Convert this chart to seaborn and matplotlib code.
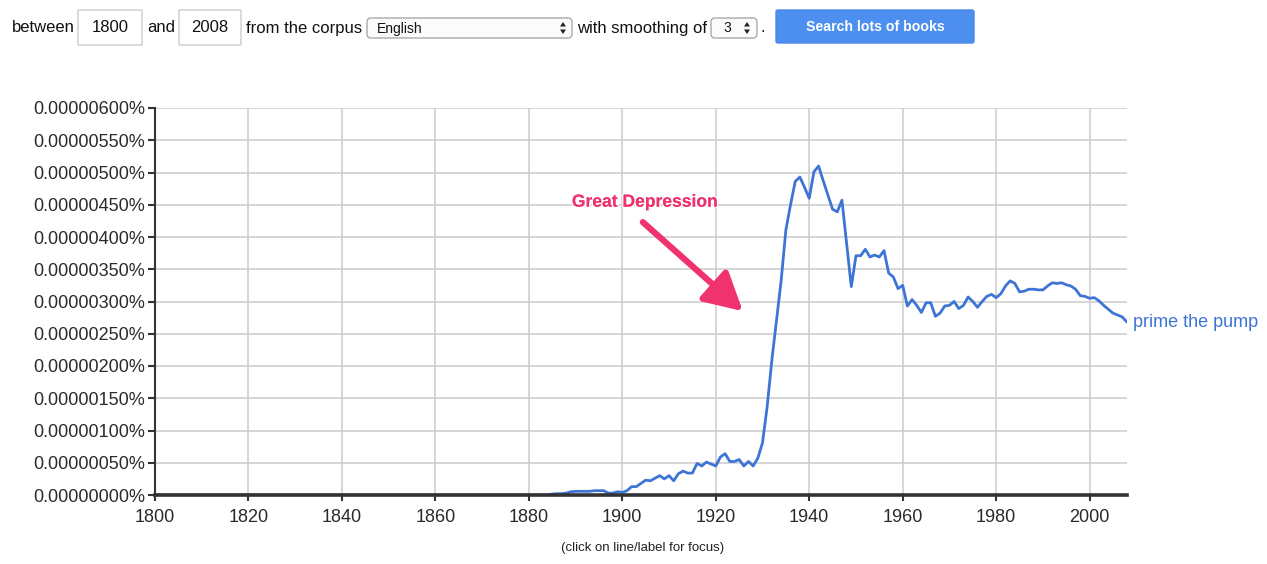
import numpy as np
import pandas as pd
import matplotlib
matplotlib.use("Agg")
import matplotlib.pyplot as plt
import matplotlib.patheffects as pe
from matplotlib.patches import FancyBboxPatch, Polygon
from matplotlib.transforms import Affine2D
import seaborn as sns

# ---- data (frequency in millionths of a percent) ----
PHRASE = "prime the pump"
zero_years = list(range(1800, 1885))
zero_vals = [0.0] * len(zero_years)
vals_1885 = [
    0.015, 0.02, 0.02, 0.03, 0.05,                                   # 1885-1889
    0.057, 0.057, 0.057, 0.057, 0.067, 0.067, 0.067, 0.03, 0.03, 0.05,  # 1890s
    0.04, 0.067, 0.13, 0.13, 0.18, 0.23, 0.22, 0.26, 0.30, 0.25,     # 1900s
    0.30, 0.22, 0.33, 0.37, 0.34, 0.34, 0.49, 0.45, 0.51, 0.48,      # 1910s
    0.45, 0.59, 0.64, 0.52, 0.52, 0.55, 0.45, 0.52, 0.45, 0.57,      # 1920s
    0.81, 1.37, 2.09, 2.71, 3.33, 4.11, 4.50, 4.86, 4.93, 4.77,      # 1930s
    4.60, 5.01, 5.10, 4.87, 4.65, 4.43, 4.39, 4.57, 3.90, 3.23,      # 1940s
    3.71, 3.71, 3.81, 3.69, 3.72, 3.69, 3.79, 3.44, 3.38, 3.20,      # 1950s
    3.25, 2.93, 3.03, 2.94, 2.83, 2.98, 2.98, 2.77, 2.82, 2.93,      # 1960s
    2.94, 3.00, 2.89, 2.94, 3.07, 3.00, 2.91, 3.00, 3.08, 3.11,      # 1970s
    3.06, 3.12, 3.24, 3.32, 3.28, 3.15, 3.16, 3.19, 3.19, 3.18,      # 1980s
    3.18, 3.24, 3.29, 3.28, 3.29, 3.26, 3.24, 3.19, 3.09, 3.08,      # 1990s
    3.05, 3.06, 3.01, 2.94, 2.88, 2.82, 2.79, 2.76, 2.68,            # 2000-2008
]
years_1885 = list(range(1885, 1885 + len(vals_1885)))
x_ticks = list(range(1800, 2001, 20))
y_ticks = [i * 0.5 for i in range(13)]

df = pd.DataFrame({"year": zero_years + years_1885, "value": zero_vals + vals_1885})

BLUE = "#3e74d6"
PINK = "#f0336e"
TXT = "#2a2a2a"
W, H = 1267, 564

sns.set_theme(style="whitegrid")
plt.rcParams["font.family"] = ["Liberation Sans", "DejaVu Sans"]

fig = plt.figure(figsize=(W / 100, H / 100), dpi=100)
fig.patch.set_facecolor("white")
pix = Affine2D().scale(1 / W, -1 / H).translate(0, 1) + fig.transFigure

ax = fig.add_axes([155 / W, (H - 495) / H, (1127 - 155) / W, (495 - 108) / H])
sns.lineplot(data=df, x="year", y="value", ax=ax, color=BLUE, linewidth=2.0)

ax.set_xlim(1800, 2008)
ax.set_ylim(0, 6)
ax.set_xticks(x_ticks)
ax.set_yticks(y_ticks)
ax.set_yticklabels([f"{v * 1e-6:.8f}%" for v in y_ticks])
ax.set_xlabel("")
ax.set_ylabel("")
ax.set_facecolor("white")
ax.grid(True, color="#cccccc", linewidth=1.1)
for s in ["top", "right"]:
    ax.spines[s].set_visible(False)
ax.spines["left"].set_color("#333333")
ax.spines["left"].set_linewidth(1.5)
ax.spines["bottom"].set_color("#333333")
ax.spines["bottom"].set_linewidth(2.6)
ax.tick_params(axis="y", left=True, length=5, width=1.5, color="#333333",
               labelsize=13, labelcolor=TXT, pad=2)
ax.tick_params(axis="x", bottom=True, length=4, width=1.5, color="#333333",
               labelsize=13, labelcolor=TXT, pad=6)

# series label at end of line
ax.text(2009.2, vals_1885[-1], PHRASE, color=BLUE, fontsize=13,
        va="center", ha="left", clip_on=False)

# annotation
ax.annotate("", xy=(1925.8, 2.85), xytext=(1904.4, 4.23),
            arrowprops=dict(arrowstyle="-|>,head_length=2.3,head_width=1.25",
                            color=PINK, lw=4.5, shrinkA=0, shrinkB=0,
                            mutation_scale=10))
ax.text(1904.8, 4.54, "Great Depression", color=PINK, fontsize=12.6,
        fontweight="bold", ha="center", va="center",
        path_effects=[pe.withSimplePatchShadow(offset=(0.6, -0.6), shadow_rgbFace="#bbbbbb", alpha=0.6),
                      pe.withStroke(linewidth=2, foreground="white"),
                      pe.Normal()])

# ---- top form controls ----
def box(x0, y0, x1, y1, ec="#cccccc", fc="white", r=0.0, lw=1.0):
    p = FancyBboxPatch((x0, y0), x1 - x0, y1 - y0,
                       boxstyle=f"round,pad=0,rounding_size={r}",
                       transform=pix, ec=ec, fc=fc, lw=lw)
    fig.add_artist(p)

def ftext(x, y, s, **kw):
    kw.setdefault("fontsize", 12)
    kw.setdefault("color", "#111111")
    kw.setdefault("va", "center")
    fig.text(x, y, s, transform=pix, **kw)

def updown(x, y):
    fig.add_artist(Polygon([[x - 3, y - 1.5], [x + 3, y - 1.5], [x, y - 6]],
                           closed=True, transform=pix, fc="#222222", ec="none"))
    fig.add_artist(Polygon([[x - 3, y + 1.5], [x + 3, y + 1.5], [x, y + 6]],
                           closed=True, transform=pix, fc="#222222", ec="none"))

ftext(12, 28, "between")
box(78, 10, 142, 45)
ftext(110, 28, "1800", ha="center")
ftext(147, 28, "and")
box(179, 10, 241, 45)
ftext(210, 28, "2008", ha="center")
ftext(246, 28, "from the corpus")
box(367, 18, 572, 38, ec="#aaaaaa", fc="#fbfbfb", r=4)
ftext(377, 28.5, "English", fontsize=10)
updown(563, 28)
ftext(577, 28, "with smoothing of")
box(711, 18, 757, 38, ec="#aaaaaa", fc="#fbfbfb", r=4)
ftext(723, 28.5, "3", fontsize=10)
updown(747, 28)
ftext(760, 28, ".")
box(776, 10, 974, 43, ec="#4a88e8", fc="#4d8ff0", r=2)
ftext(875, 27, "Search lots of books", ha="center", color="white",
      fontsize=10.2, fontweight="bold")

ftext(643, 548, "(click on line/label for focus)", ha="center",
      fontsize=9.5, color="#222222")

fig.savefig("out.png", dpi=100, facecolor="white")
